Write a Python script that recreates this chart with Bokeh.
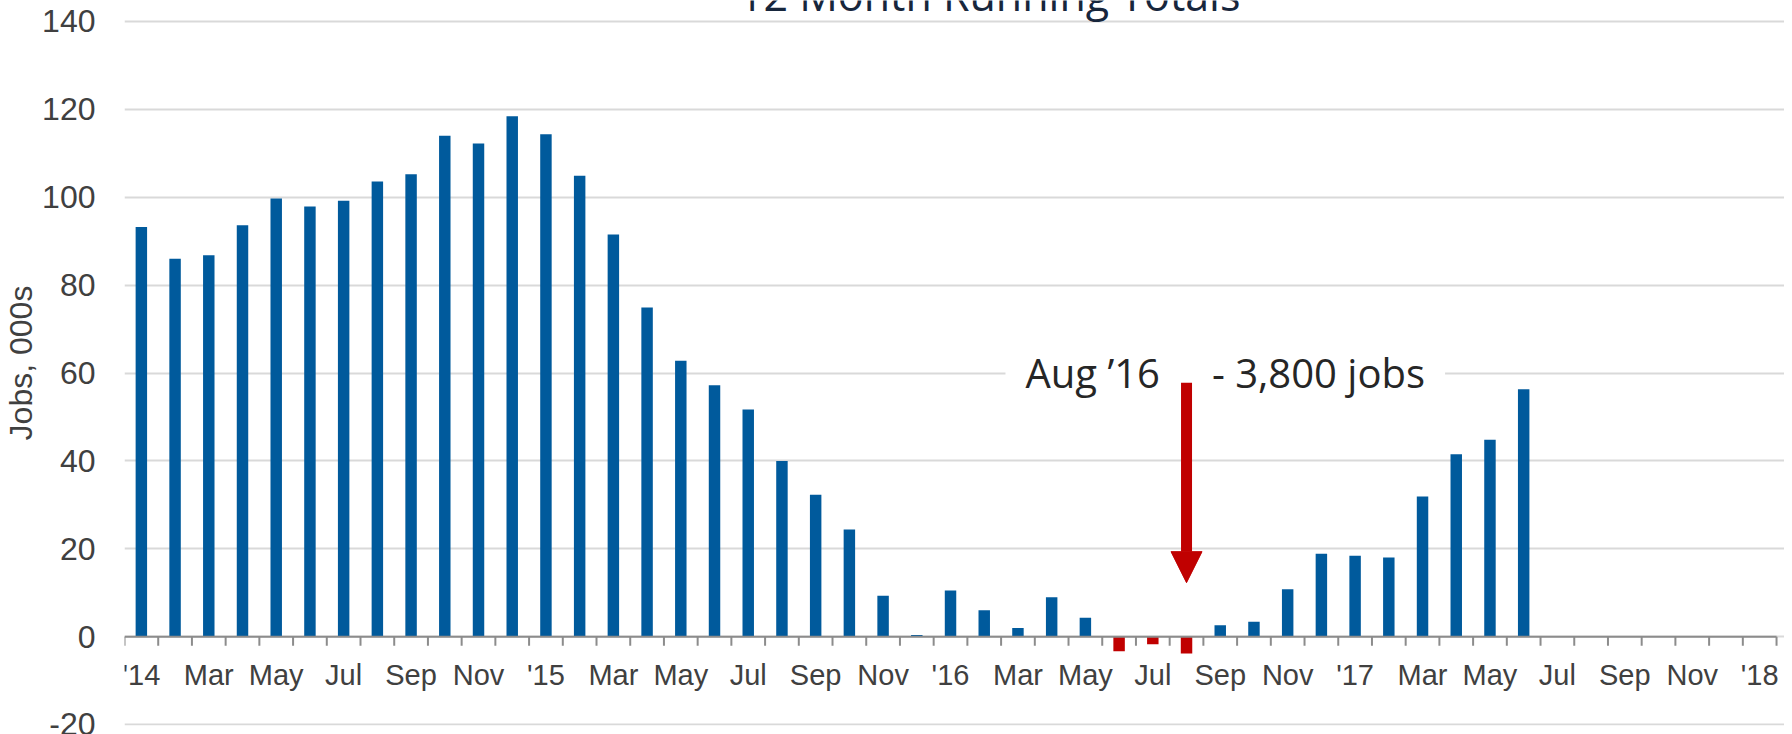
from bokeh.plotting import figure
from bokeh.models import ColumnDataSource, FixedTicker, Label, Arrow, NormalHead, Range1d
from bokeh.core.properties import value
from bokeh.embed import file_html
from bokeh.resources import INLINE

# ---- data ----
months = ["Jan '14", "Feb '14", "Mar '14", "Apr '14", "May '14", "Jun '14", "Jul '14", "Aug '14",
          "Sep '14", "Oct '14", "Nov '14", "Dec '14",
          "Jan '15", "Feb '15", "Mar '15", "Apr '15", "May '15", "Jun '15", "Jul '15", "Aug '15",
          "Sep '15", "Oct '15", "Nov '15", "Dec '15",
          "Jan '16", "Feb '16", "Mar '16", "Apr '16", "May '16", "Jun '16", "Jul '16", "Aug '16",
          "Sep '16", "Oct '16", "Nov '16", "Dec '16",
          "Jan '17", "Feb '17", "Mar '17", "Apr '17", "May '17", "Jun '17"]
jobs = [93.2, 86.0, 86.8, 93.6, 99.7, 97.9, 99.2, 103.6, 105.2, 114.0, 112.2, 118.4,
        114.3, 104.9, 91.5, 74.9, 62.8, 57.2, 51.7, 40.0, 32.3, 24.4, 9.3, 0.4,
        10.5, 6.0, 2.0, 9.0, 4.3, -3.3, -1.7, -3.8, 2.6, 3.4, 10.8, 18.9,
        18.4, 18.0, 31.9, 41.5, 44.8, 56.3]
tick_labels = ["'14", "Mar", "May", "Jul", "Sep", "Nov",
               "'15", "Mar", "May", "Jul", "Sep", "Nov",
               "'16", "Mar", "May", "Jul", "Sep", "Nov",
               "'17", "Mar", "May", "Jul", "Sep", "Nov", "'18"]
y_ticks = [-20, 0, 20, 40, 60, 80, 100, 120, 140]
n_slots = 49  # Jan '14 .. Jan '18
title_text = "12 Month Running Totals"
note_text = "Aug \u201916\u00a0\u00a0\u00a0\u00a0\u00a0- 3,800 jobs"
note_month = "Aug '16"
note_arrow_from, note_arrow_to = 57.8, 12.3

BLUE = "#005A9C"
RED = "#C00000"
GRAY_TXT = "#404040"

# ---- figure ----
p = figure(width=1784, height=734,
           x_range=Range1d(-0.5, n_slots - 0.5 + 0.236),
           y_range=Range1d(-20.2, 144.76),
           output_backend="svg", toolbar_location=None,
           min_border_left=115, min_border_right=0, min_border_top=0, min_border_bottom=9)
p.outline_line_color = None
p.background_fill_color = "white"
p.xaxis.visible = False
p.xgrid.visible = False

p.yaxis.ticker = FixedTicker(ticks=y_ticks)
p.yaxis.major_label_overrides = {t: str(t) for t in y_ticks}
p.yaxis.axis_line_color = None
p.yaxis.major_tick_line_color = None
p.yaxis.minor_tick_line_color = None
p.yaxis.major_label_text_font = "Liberation Sans"
p.yaxis.major_label_text_font_size = "32px"
p.yaxis.major_label_text_color = GRAY_TXT
p.yaxis.major_label_standoff = 23
p.yaxis.axis_label = "Jobs, 000s"
p.yaxis.axis_label_text_font = "Liberation Sans"
p.yaxis.axis_label_text_font_size = "32px"
p.yaxis.axis_label_text_font_style = "normal"
p.yaxis.axis_label_text_color = GRAY_TXT
p.yaxis.axis_label_standoff = 0
p.ygrid.ticker = FixedTicker(ticks=y_ticks)
p.ygrid.grid_line_color = "#D9D9D9"
p.ygrid.grid_line_width = 2

# bars
xs = list(range(len(jobs)))
colors = [RED if v < 0 else BLUE for v in jobs]
src = ColumnDataSource(dict(x=xs, top=jobs, color=colors, month=months))
p.vbar(x="x", top="top", bottom=0, width=0.34, fill_color="color", line_color=None, source=src)

# category axis drawn at zero
px_per_unit = (734 - 0 - 9) / (144.76 + 20.2)
tick_len = 9 / px_per_unit
bounds = [i - 0.5 for i in range(n_slots + 1)]
p.segment(x0=[-0.5], y0=[0], x1=[n_slots - 0.5], y1=[0], line_color="#8C8C8C", line_width=2)
p.segment(x0=bounds, y0=[0] * len(bounds), x1=bounds, y1=[-tick_len] * len(bounds),
          line_color="#8C8C8C", line_width=2)
label_x = list(range(0, n_slots, 2))
p.text(x=label_x, y=[-8.8] * len(label_x), text=tick_labels,
       text_font=value("Liberation Sans"), text_font_size="29px",
       text_color=GRAY_TXT, text_align="center", text_baseline="alphabetic")

# title (partially cut off at top of the picture)
p.text(x=[25.16], y=[139.5], text=[title_text], text_font=value("Open Sans"),
       text_font_size="43px", text_color="#17263c", text_align="center",
       text_baseline="bottom")

# annotation
xa = months.index(note_month)
p.add_layout(Label(x=25.63, y=60.1, text=note_text, text_font="Open Sans", text_font_size="40px",
                   text_color="#262626", text_baseline="alphabetic",
                   background_fill_color="white", padding=20))
p.add_layout(Arrow(end=NormalHead(size=31, fill_color=RED, line_color=RED),
                   x_start=xa, y_start=note_arrow_from, x_end=xa, y_end=note_arrow_to,
                   line_color=RED, line_width=11))

open("out.html", "w").write(file_html(p, INLINE))
